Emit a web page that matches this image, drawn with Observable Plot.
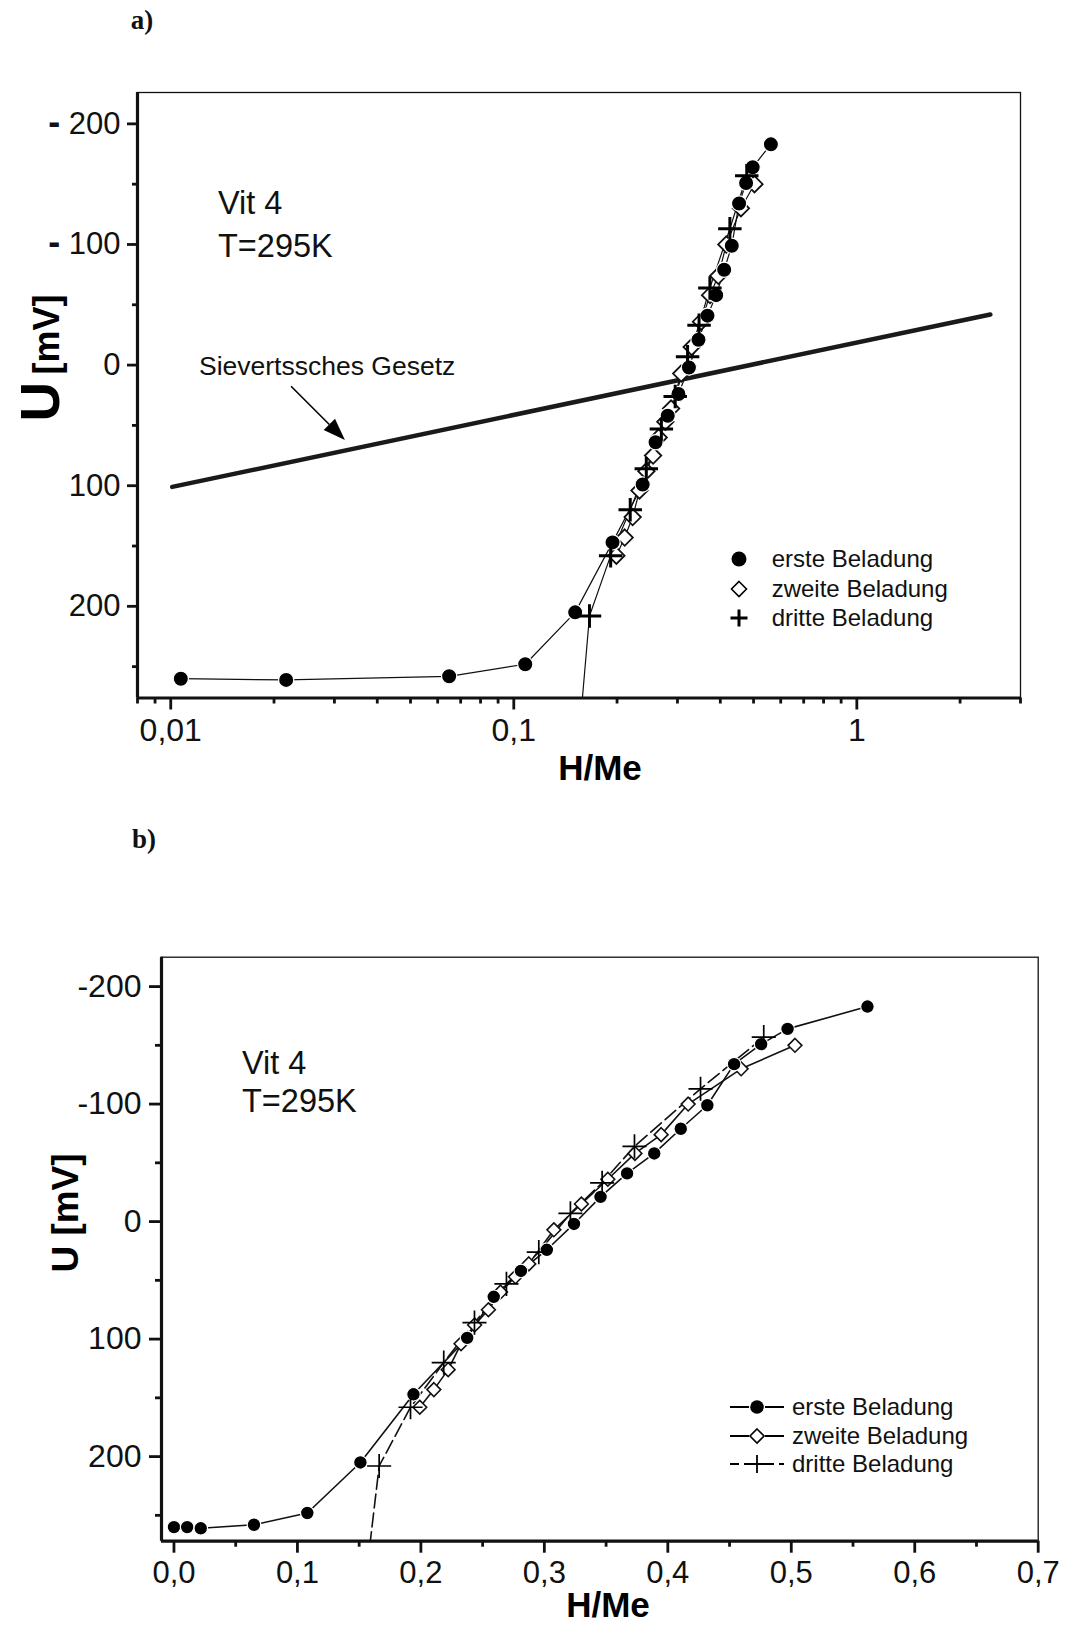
<!DOCTYPE html>
<html>
<head>
<meta charset="utf-8">
<script src="https://cdn.jsdelivr.net/npm/d3@7"></script>
<script src="https://cdn.jsdelivr.net/npm/@observablehq/plot@0.6"></script>
<style>
  body { margin: 0; background: #fff; }
  #page { position: relative; width: 1066px; height: 1625px; overflow: hidden;
          font-family: Arial, "Liberation Sans", sans-serif; color: #111; }
  .panel { position: absolute; left: 0; }
  .tag { position: absolute; font-family: "Liberation Serif", "Times New Roman", serif;
         font-weight: bold; font-size: 27px; transform: translate(-50%, -50%); }
  .note { position: absolute; font-size: 32.5px; line-height: 1; transform: translateY(-50%); white-space: nowrap; }
  .legend { position: absolute; font-size: 24px; white-space: nowrap; }
  .legend .row { position: absolute; display: flex; align-items: center; transform: translateY(-50%); }
</style>
</head>
<body>
<div id="page"></div>
<script>
// Vit 4, T = 295 K: Potential U [mV] über der Wasserstoffkonzentration H/Me
const ersteX  = [0.000, 0.0107, 0.0217, 0.0648, 0.108, 0.151, 0.194, 0.2375, 0.259, 0.281, 0.302, 0.324, 0.3455, 0.367, 0.389, 0.4105, 0.432, 0.4537, 0.4756, 0.497, 0.5617];
const ersteU  = [260, 260, 261, 258, 248, 205, 147, 99, 64, 42, 24, 2, -21, -41, -58, -79, -99, -134, -151, -164, -183];

const zweiteX = [0.1991, 0.2105, 0.2221, 0.2325, 0.2435, 0.2547, 0.2645, 0.2766, 0.2874, 0.3077, 0.330, 0.3514, 0.3734, 0.3946, 0.4165, 0.4594, 0.503];
const zweiteU = [158, 143, 126, 104, 88, 75, 60, 47, 36, 7, -15, -36, -58, -74, -100, -130, -150];

const dritteX = [0.155, 0.1662, 0.1916, 0.2185, 0.2434, 0.2693, 0.2955, 0.3211, 0.3468, 0.373, 0.4265, 0.4777];
const dritteU = [308, 208, 158, 120, 86, 53, 26, -7, -33, -64, -113, -157];

// Sievertssches Gesetz (Gerade im halblogarithmischen Diagramm)
const sievertsX = [0.0101, 2.45];
const sievertsU = [101, -42];

// Pfeil zur Beschriftung "Sievertssches Gesetz"
const arrowX = [0.0225, 0.0323];
const arrowU = [18, 62.5];

// Achsenteilung
const logMajor  = [0.01, 0.1, 1];
const logMinor  = [0.008, 0.009, 0.02, 0.03, 0.04, 0.05, 0.06, 0.07, 0.08, 0.09, 0.2, 0.3, 0.4, 0.5, 0.6, 0.7, 0.8, 0.9, 2, 3];
const linMajor  = [0, 0.1, 0.2, 0.3, 0.4, 0.5, 0.6, 0.7];
const linMinor  = [0.05, 0.15, 0.25, 0.35, 0.45, 0.55, 0.65];
const uMajor    = [-200, -100, 0, 100, 200];
const uMinor    = [-150, -50, 50, 150, 250];

const seriesNames = ["erste Beladung", "zweite Beladung", "dritte Beladung"];

const toRows = (xs, us) => xs.map((x, i) => ({x, u: us[i]}));
const erste = toRows(ersteX, ersteU);
const zweite = toRows(zweiteX, zweiteU);
const dritte = toRows(dritteX, dritteU);
const sieverts = toRows(sievertsX, sievertsU);

const comma = s => String(s).replace(".", ",");
const FONT = "Arial, 'Liberation Sans', sans-serif";
const page = document.getElementById("page");

function place(el, top) {
  el.classList.add("panel");
  el.style.top = top + "px";
  page.appendChild(el);
  return el;
}

// ---------- a) logarithmische H/Me-Achse ----------
const positive = d => d.x > 0;
const chartA = Plot.plot({
  width: 1066, height: 800,
  marginLeft: 137, marginRight: 46, marginTop: 92, marginBottom: 102.5,
  x: {type: "log", domain: [0.008, 3]},
  y: {domain: [-226, 276], reverse: true},
  style: {fontFamily: FONT, background: "white", overflow: "visible", color: "#111"},
  marks: [
    Plot.frame({stroke: "#111", strokeWidth: 1.3}),
    Plot.ruleX([0.008], {stroke: "#111", strokeWidth: 3.2}),
    Plot.ruleY([276], {stroke: "#111", strokeWidth: 3.2}),
    Plot.axisX({ticks: logMajor, tickSize: 12, tickPadding: 8, strokeWidth: 2.8, fontSize: 32,
                tickFormat: comma, label: null}),
    Plot.axisX({ticks: logMinor, tickSize: 6, strokeWidth: 2.8, tickFormat: () => "", label: null}),
    Plot.axisY({ticks: uMajor, tickSize: 10, tickPadding: 7, strokeWidth: 2.8, fontSize: 31,
                tickFormat: d => d < 0 ? "- " + Math.abs(d) : String(d), label: null}),
    Plot.axisY({ticks: uMinor, tickSize: 5, strokeWidth: 2.8, tickFormat: () => "", label: null}),
    Plot.line(sieverts, {x: "x", y: "u", stroke: "#1a1a1a", strokeWidth: 4.5}),
    Plot.line(erste.filter(positive), {x: "x", y: "u", stroke: "#111", strokeWidth: 1.2, clip: true}),
    Plot.line(zweite, {x: "x", y: "u", stroke: "#111", strokeWidth: 1.2, clip: true}),
    Plot.line(dritte, {x: "x", y: "u", stroke: "#111", strokeWidth: 1.2, clip: true}),
    Plot.dot(zweite, {x: "x", y: "u", symbol: "diamond2", r: 7.4, fill: "white", stroke: "#111", strokeWidth: 1.8, clip: true}),
    Plot.dot(erste.filter(positive), {x: "x", y: "u", symbol: "circle", r: 7.6, fill: "#000", stroke: "white", strokeWidth: 1.2, clip: true}),
    Plot.dot(dritte, {x: "x", y: "u", symbol: "plus", r: 7.6, stroke: "#000", strokeWidth: 3, clip: true})
  ]
});
place(chartA, 0);

// ---------- b) lineare H/Me-Achse ----------
const chartB = Plot.plot({
  width: 1066, height: 805,
  marginLeft: 161, marginRight: 28.3, marginTop: 136.7, marginBottom: 84.3,
  x: {domain: [-0.0101, 0.7]},
  y: {domain: [-225, 272], reverse: true},
  style: {fontFamily: FONT, background: "white", overflow: "visible", color: "#111"},
  marks: [
    Plot.frame({stroke: "#111", strokeWidth: 1.3}),
    Plot.ruleX([-0.0101], {stroke: "#111", strokeWidth: 3.2}),
    Plot.ruleY([272], {stroke: "#111", strokeWidth: 3.2}),
    Plot.axisX({ticks: linMajor, tickSize: 12, tickPadding: 8, strokeWidth: 2.8, fontSize: 31,
                tickFormat: d => comma(d3.format(".1f")(d)), label: null}),
    Plot.axisX({ticks: linMinor, tickSize: 6, strokeWidth: 2.8, tickFormat: () => "", label: null}),
    Plot.axisY({ticks: uMajor, tickSize: 12, tickPadding: 8, strokeWidth: 2.8, fontSize: 32,
                tickFormat: d => String(d), label: null}),
    Plot.axisY({ticks: uMinor, tickSize: 6, strokeWidth: 2.8, tickFormat: () => "", label: null}),
    Plot.line(erste, {x: "x", y: "u", stroke: "#111", strokeWidth: 1.6, clip: true}),
    Plot.line(zweite, {x: "x", y: "u", stroke: "#111", strokeWidth: 1.6, clip: true}),
    Plot.line(dritte, {x: "x", y: "u", stroke: "#111", strokeWidth: 1.6, strokeDasharray: "14,5", clip: true}),
    Plot.dot(zweite, {x: "x", y: "u", symbol: "diamond2", r: 6.2, fill: "white", stroke: "#111", strokeWidth: 1.6, clip: true}),
    Plot.dot(erste, {x: "x", y: "u", symbol: "circle", r: 6.8, fill: "#000", stroke: "white", strokeWidth: 1.2, clip: true}),
    Plot.dot(dritte, {x: "x", y: "u", symbol: "plus", r: 7.8, stroke: "#000", strokeWidth: 1.7, clip: true})
  ]
});
place(chartB, 820);

// Achsentitel
function axisTitles(chart, xPos, yPos, yParts) {
  const svg = d3.select(chart);
  svg.append("text")
    .attr("x", xPos[0]).attr("y", xPos[1])
    .attr("text-anchor", "middle").attr("dominant-baseline", "central")
    .attr("font-family", FONT).attr("font-weight", "bold").attr("font-size", 35)
    .attr("fill", "#000").text("H/Me");
  const t = svg.append("text")
    .attr("transform", `translate(${yPos[0]},${yPos[1]}) rotate(-90)`)
    .attr("text-anchor", "middle")
    .attr("font-family", FONT).attr("font-weight", "bold").attr("fill", "#000");
  yParts.forEach(([txt, size]) => t.append("tspan").attr("font-size", size).text(txt));
}
axisTitles(chartA, [600, 767], [59, 358], [["U", 55], ["\u2009[mV]", 36]]);
axisTitles(chartB, [608, 784], [78, 393], [["U [mV]", 37]]);

// fettes Minuszeichen der negativen Teilstriche in a)
d3.select(chartA).selectAll("text").each(function () {
  const s = this.textContent;
  if (/^- \d/.test(s)) {
    const el = d3.select(this).text("");
    el.append("tspan").attr("font-weight", "bold").attr("font-size", 36).text("-");
    el.append("tspan").text(" " + s.slice(2));
  }
});

// Pfeil mit gefüllter Spitze, über die Skalen von a) positioniert
{
  const sx = chartA.scale("x"), sy = chartA.scale("y");
  const x1 = sx.apply(arrowX[0]), y1 = sy.apply(arrowU[0]);
  const x2 = sx.apply(arrowX[1]), y2 = sy.apply(arrowU[1]);
  const ang = Math.atan2(y2 - y1, x2 - x1), len = 22, half = 8;
  const bx = x2 - len * Math.cos(ang), by = y2 - len * Math.sin(ang);
  const g = d3.select(chartA).append("g");
  g.append("line").attr("x1", x1).attr("y1", y1).attr("x2", bx).attr("y2", by)
    .attr("stroke", "#000").attr("stroke-width", 1.6);
  g.append("path")
    .attr("d", `M${x2},${y2}L${bx + half * Math.sin(ang)},${by - half * Math.cos(ang)}L${bx - half * Math.sin(ang)},${by + half * Math.cos(ang)}Z`)
    .attr("fill", "#000");
}

// Panelbezeichnungen und Textnotizen
function addDiv(cls, html, left, top) {
  const d = document.createElement("div");
  d.className = cls;
  d.innerHTML = html;
  d.style.left = left + "px";
  d.style.top = top + "px";
  page.appendChild(d);
  return d;
}
addDiv("tag", "a)", 142, 20);
addDiv("tag", "b)", 144, 839);
addDiv("note", "Vit 4", 218, 203);
addDiv("note", "T=295K", 218, 246);
addDiv("note", "Vit 4", 242, 1063);
addDiv("note", "T=295K", 242, 1101);
addDiv("note", "Sievertssches Gesetz", 199, 366).style.fontSize = "26.5px";

// Legenden
const sym = {
  circle: (r) => `<circle cx="0" cy="0" r="${r}" fill="#000"/>`,
  diamond: (r) => `<path d="M0,${-r}L${r},0L0,${r}L${-r},0Z" fill="white" stroke="#000" stroke-width="1.6"/>`,
  plus: (r, w) => `<path d="M${-r},0H${r}M0,${-r}V${r}" stroke="#000" stroke-width="${w}"/>`
};
function legend(left, tops, items, withLines, symX, textX) {
  const box = document.createElement("div");
  box.className = "legend";
  box.style.left = left + "px";
  box.style.top = "0px";
  page.appendChild(box);
  items.forEach((it, i) => {
    const row = document.createElement("div");
    row.className = "row";
    row.style.top = tops[i] + "px";
    let g = "";
    if (withLines) {
      g += `<line x1="0" y1="0" x2="${symX - 8}" y2="0" stroke="#000" stroke-width="2" ${it.dash ? 'stroke-dasharray="9,5"' : ""}/>`;
      g += `<line x1="${symX + 8}" y1="0" x2="${2 * symX}" y2="0" stroke="#000" stroke-width="2" ${it.dash ? 'stroke-dasharray="9,5"' : ""}/>`;
    }
    g += `<g transform="translate(${symX},0)">${it.mark}</g>`;
    row.innerHTML = `<svg width="${textX}" height="26" viewBox="0 -13 ${textX} 26" style="overflow:visible">${g}</svg><span>${it.name}</span>`;
    box.appendChild(row);
  });
}
legend(738.7 - 14, [559, 588.5, 617.5], [
  {name: seriesNames[0], mark: sym.circle(7.5)},
  {name: seriesNames[1], mark: sym.diamond(7.5)},
  {name: seriesNames[2], mark: sym.plus(8.5, 3)}
], false, 14, 47);
legend(730, [1407, 1436, 1464], [
  {name: seriesNames[0], mark: sym.circle(6.8)},
  {name: seriesNames[1], mark: sym.diamond(7)},
  {name: seriesNames[2], mark: sym.plus(9, 1.8), dash: true}
], true, 27, 62);
</script>
</body>
</html>
